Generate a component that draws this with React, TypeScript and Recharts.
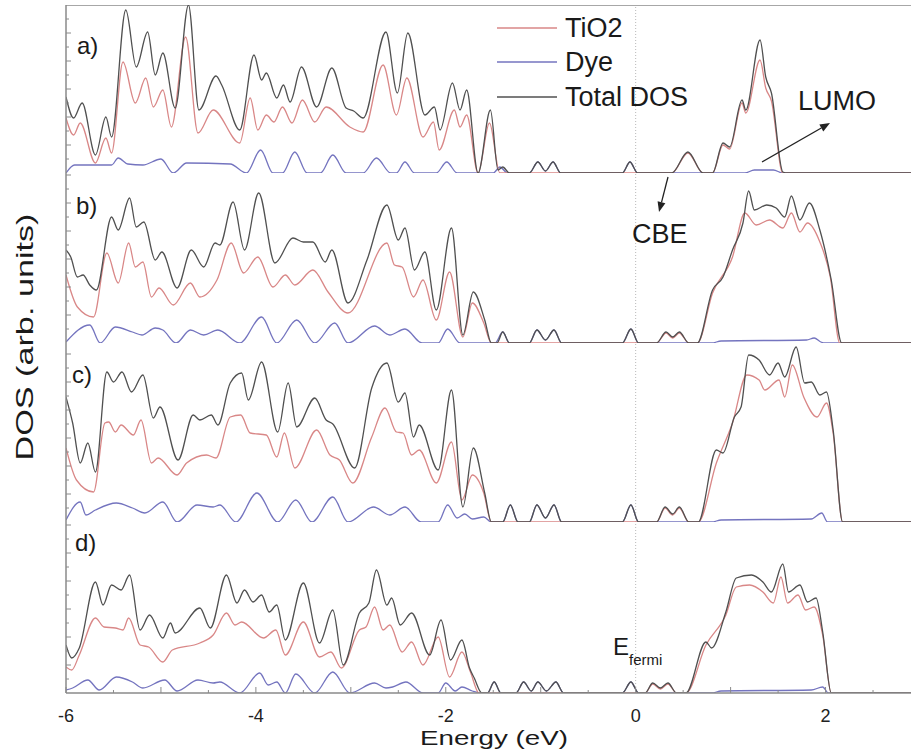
import { LineChart, Line, XAxis, YAxis, ReferenceLine } from 'recharts';

type Pt = [number, number];

// energy (eV), DOS in arbitrary units
const seriesNames = ['TiO2', 'Dye', 'Total DOS'];
const seriesColors = ['#d98787', '#7474bf', '#505050'];
const panelLabels = ['a)', 'b)', 'c)', 'd)'];
const energyTicks = [-6, -5.5, -5, -4.5, -4, -3.5, -3, -2.5, -2, -1.5, -1, -0.5, 0, 0.5, 1, 1.5, 2, 2.5];
const energyLabels = [-6, -4, -2, 0, 2];
const dosTicks = [14, 28, 42, 56, 70, 84, 98, 112, 126, 140, 154, 168];

const totalA: Pt[] = [
  [-6.0, 76], [-5.92, 55], [-5.83, 70], [-5.69, 18], [-5.58, 56], [-5.52, 36], [-5.37, 163], [-5.26, 106],
  [-5.14, 141], [-5.06, 98], [-4.98, 120], [-4.85, 65], [-4.71, 168], [-4.6, 63], [-4.42, 97], [-4.36, 88],
  [-4.17, 43], [-4.02, 118], [-3.94, 93], [-3.89, 100], [-3.78, 75], [-3.71, 88], [-3.64, 71], [-3.52, 106],
  [-3.36, 66], [-3.2, 105], [-3.05, 65], [-2.97, 62], [-2.87, 55], [-2.63, 141], [-2.51, 80], [-2.4, 140],
  [-2.22, 58], [-2.12, 66], [-2.06, 43], [-1.93, 90], [-1.85, 63], [-1.78, 83], [-1.66, 0], [-1.53, 63],
  [-1.45, 3], [-1.4, 6], [-1.33, 0], [-1.12, 0], [-1.03, 11], [-0.95, 2], [-0.87, 11], [-0.79, 0],
  [-0.14, 0], [-0.06, 11], [0.02, 0], [0.38, 0], [0.55, 21], [0.71, 0], [0.81, 0], [0.92, 30], [0.99, 26],
  [1.12, 73], [1.16, 63], [1.31, 133], [1.37, 96], [1.43, 80], [1.55, 1], [1.6, 0], [2.9, 0],
];
const tio2A: Pt[] = [
  [-6.0, 55], [-5.92, 38], [-5.85, 50], [-5.69, 10], [-5.58, 35], [-5.52, 20], [-5.4, 111], [-5.27, 70],
  [-5.16, 95], [-5.08, 66], [-4.98, 83], [-4.89, 46], [-4.74, 136], [-4.61, 40], [-4.45, 63], [-4.17, 30],
  [-4.06, 75], [-3.98, 43], [-3.89, 58], [-3.81, 51], [-3.72, 66], [-3.62, 50], [-3.51, 73], [-3.38, 51],
  [-3.26, 66], [-3.01, 46], [-2.87, 41], [-2.66, 108], [-2.52, 58], [-2.41, 95], [-2.24, 36], [-2.13, 51],
  [-2.07, 23], [-1.91, 63], [-1.85, 46], [-1.78, 58], [-1.66, 0], [-1.54, 50], [-1.43, 0], [0.38, 0],
  [0.55, 20], [0.71, 0], [0.81, 0], [0.92, 28], [0.99, 24], [1.12, 70], [1.16, 60], [1.31, 113], [1.37, 85],
  [1.43, 72], [1.55, 0], [2.9, 0],
];
const dyeA: Pt[] = [
  [-6.0, 0], [-5.91, 8], [-5.52, 8], [-5.45, 15], [-5.35, 9], [-5.19, 8], [-5.0, 14], [-4.87, 0], [-4.73, 10],
  [-4.27, 9], [-4.1, 0], [-3.95, 23], [-3.82, 0], [-3.72, 0], [-3.59, 21], [-3.46, 0], [-3.32, 0], [-3.19, 18],
  [-3.05, 0], [-2.87, 0], [-2.73, 15], [-2.58, 0], [-2.52, 0], [-2.43, 11], [-2.33, 0], [-2.1, 0], [-1.99, 11],
  [-1.88, 0], [-1.5, 0], [-1.43, 6], [-1.35, 0], [-1.12, 0], [-1.03, 11], [-0.95, 2], [-0.87, 11], [-0.79, 0],
  [-0.14, 0], [-0.06, 11], [0.02, 0], [1.15, 0], [1.25, 3], [1.45, 3], [1.55, 0], [2.9, 0],
];

const totalB: Pt[] = [
  [-6.0, 93], [-5.95, 86], [-5.88, 66], [-5.82, 68], [-5.75, 58], [-5.68, 53], [-5.52, 126], [-5.45, 113],
  [-5.33, 145], [-5.26, 116], [-5.18, 121], [-5.06, 83], [-4.99, 91], [-4.83, 55], [-4.68, 93], [-4.55, 76],
  [-4.43, 100], [-4.38, 98], [-4.24, 141], [-4.12, 93], [-3.97, 150], [-3.8, 80], [-3.61, 105], [-3.5, 101],
  [-3.4, 101], [-3.27, 81], [-3.2, 93], [-3.03, 40], [-2.83, 83], [-2.62, 138], [-2.5, 103], [-2.43, 115],
  [-2.33, 73], [-2.22, 91], [-2.1, 33], [-1.94, 115], [-1.82, 8], [-1.71, 51], [-1.59, 23], [-1.52, 0],
  [-1.46, 0], [-1.4, 11], [-1.33, 0], [-1.12, 0], [-1.04, 13], [-0.95, 3], [-0.86, 13], [-0.78, 0], [-0.14, 0],
  [-0.05, 14], [0.03, 0], [0.22, 0], [0.32, 11], [0.39, 6], [0.46, 11], [0.56, 0], [0.65, 0], [0.81, 53],
  [0.92, 66], [1.02, 93], [1.13, 120], [1.19, 152], [1.25, 133], [1.38, 138], [1.48, 135], [1.57, 126],
  [1.64, 147], [1.73, 123], [1.83, 140], [1.94, 113], [2.06, 63], [2.17, 0], [2.9, 0],
];
const tio2B: Pt[] = [
  [-6.0, 68], [-5.88, 36], [-5.71, 26], [-5.57, 90], [-5.45, 60], [-5.34, 100], [-5.27, 76], [-5.19, 81],
  [-5.1, 46], [-5.02, 55], [-4.87, 38], [-4.69, 60], [-4.59, 46], [-4.41, 63], [-4.26, 100], [-4.13, 70],
  [-3.98, 86], [-3.82, 56], [-3.69, 68], [-3.59, 58], [-3.4, 73], [-3.24, 51], [-3.03, 30], [-2.62, 100],
  [-2.54, 78], [-2.46, 76], [-2.34, 46], [-2.24, 63], [-2.1, 23], [-1.96, 71], [-1.82, 6], [-1.72, 40],
  [-1.6, 20], [-1.52, 0], [0.22, 0], [0.32, 10], [0.39, 5], [0.46, 10], [0.56, 0], [0.65, 0], [0.81, 50],
  [1.02, 86], [1.15, 130], [1.27, 118], [1.41, 123], [1.55, 115], [1.64, 130], [1.73, 111], [1.81, 120],
  [1.94, 101], [2.05, 66], [2.15, 0], [2.9, 0],
];
const dyeB: Pt[] = [
  [-6.0, 1], [-5.75, 18], [-5.64, 0], [-5.48, 16], [-5.3, 11], [-5.2, 8], [-5.06, 15], [-4.98, 13], [-4.84, 0],
  [-4.69, 13], [-4.55, 8], [-4.4, 13], [-4.17, 0], [-3.94, 26], [-3.78, 0], [-3.57, 23], [-3.38, 0],
  [-3.17, 20], [-3.03, 0], [-2.75, 17], [-2.59, 8], [-2.43, 14], [-2.25, 0], [-2.08, 0], [-1.98, 14],
  [-1.85, 0], [-1.48, 0], [-1.4, 11], [-1.33, 0], [-1.12, 0], [-1.04, 13], [-0.95, 3], [-0.86, 13], [-0.78, 0],
  [-0.14, 0], [-0.05, 14], [0.03, 0], [0.8, 0], [0.9, 2], [1.8, 3], [1.88, 5], [1.95, 1], [2.0, 0], [2.9, 0],
];

const totalC: Pt[] = [
  [-6.0, 125], [-5.93, 99], [-5.85, 59], [-5.77, 79], [-5.69, 50], [-5.57, 150], [-5.5, 140], [-5.41, 150],
  [-5.31, 130], [-5.19, 147], [-5.08, 104], [-5.01, 115], [-4.82, 62], [-4.66, 107], [-4.59, 102],
  [-4.47, 107], [-4.4, 97], [-4.27, 139], [-4.15, 149], [-4.08, 122], [-3.94, 160], [-3.77, 90], [-3.66, 139],
  [-3.57, 95], [-3.38, 124], [-3.26, 102], [-3.19, 98], [-2.96, 54], [-2.78, 134], [-2.62, 159], [-2.5, 120],
  [-2.43, 129], [-2.34, 85], [-2.28, 97], [-2.08, 52], [-1.94, 132], [-1.82, 15], [-1.71, 74], [-1.59, 29],
  [-1.52, 0], [-1.4, 0], [-1.32, 17], [-1.24, 0], [-1.12, 0], [-1.04, 17], [-0.95, 4], [-0.86, 17],
  [-0.78, 0], [-0.14, 0], [-0.05, 17], [0.03, 0], [0.22, 0], [0.31, 15], [0.39, 8], [0.46, 15], [0.56, 0],
  [0.66, 0], [0.85, 72], [0.92, 69], [1.04, 105], [1.11, 115], [1.19, 167], [1.3, 162], [1.41, 147],
  [1.5, 159], [1.57, 145], [1.69, 175], [1.78, 139], [1.85, 140], [1.94, 127], [2.01, 130], [2.08, 92],
  [2.18, 0], [2.9, 0],
];
const tio2C: Pt[] = [
  [-6.0, 74], [-5.89, 42], [-5.71, 30], [-5.59, 99], [-5.55, 100], [-5.48, 90], [-5.42, 97], [-5.29, 87],
  [-5.21, 102], [-5.1, 59], [-5.03, 64], [-4.83, 47], [-4.73, 59], [-4.52, 67], [-4.42, 64], [-4.27, 105],
  [-4.16, 107], [-4.06, 89], [-3.89, 87], [-3.78, 65], [-3.7, 89], [-3.59, 54], [-3.36, 92], [-3.22, 67],
  [-3.12, 62], [-2.98, 39], [-2.78, 85], [-2.64, 114], [-2.52, 90], [-2.45, 89], [-2.36, 67], [-2.28, 72],
  [-2.1, 39], [-1.94, 80], [-1.83, 22], [-1.72, 47], [-1.6, 29], [-1.52, 0], [0.22, 0], [0.31, 14],
  [0.39, 7], [0.46, 14], [0.56, 0], [0.66, 0], [0.85, 59], [1.02, 99], [1.17, 147], [1.3, 142], [1.36, 132],
  [1.51, 142], [1.57, 125], [1.65, 157], [1.77, 125], [1.91, 105], [2.01, 119], [2.08, 89], [2.18, 0], [2.9, 0],
];
const dyeC: Pt[] = [
  [-6.0, 2], [-5.85, 20], [-5.79, 7], [-5.69, 12], [-5.47, 19], [-5.3, 14], [-5.17, 9], [-4.98, 20],
  [-4.83, 0], [-4.62, 17], [-4.45, 15], [-4.38, 17], [-4.21, 0], [-3.99, 29], [-3.77, 0], [-3.58, 22],
  [-3.41, 0], [-3.19, 25], [-3.03, 0], [-2.76, 15], [-2.59, 7], [-2.43, 15], [-2.26, 0], [-2.08, 0],
  [-1.98, 17], [-1.88, 4], [-1.8, 8], [-1.72, 3], [-1.6, 5], [-1.52, 0], [-1.4, 0], [-1.32, 17], [-1.24, 0],
  [-1.12, 0], [-1.04, 17], [-0.95, 4], [-0.86, 17], [-0.78, 0], [-0.14, 0], [-0.05, 17], [0.03, 0], [0.8, 0],
  [0.9, 2], [1.85, 3], [1.96, 9], [2.02, 0], [2.9, 0],
];

const totalD: Pt[] = [
  [-6.0, 48], [-5.94, 35], [-5.86, 45], [-5.69, 111], [-5.61, 88], [-5.52, 108], [-5.42, 103], [-5.33, 118],
  [-5.22, 63], [-5.12, 78], [-4.98, 55], [-4.9, 70], [-4.85, 60], [-4.59, 85], [-4.48, 65], [-4.31, 118],
  [-4.2, 90], [-4.12, 103], [-4.03, 91], [-3.94, 98], [-3.86, 81], [-3.78, 88], [-3.69, 53], [-3.5, 110],
  [-3.33, 50], [-3.19, 83], [-3.08, 28], [-2.91, 80], [-2.81, 90], [-2.73, 123], [-2.62, 88], [-2.57, 95],
  [-2.48, 68], [-2.36, 80], [-2.17, 38], [-2.05, 73], [-1.95, 33], [-1.83, 53], [-1.75, 25], [-1.7, 15],
  [-1.62, 0], [-1.56, 0], [-1.49, 11], [-1.42, 0], [-1.26, 0], [-1.18, 11], [-1.1, 2], [-1.03, 11],
  [-0.94, 2], [-0.84, 11], [-0.76, 0], [-0.14, 0], [-0.05, 11], [0.03, 0], [0.1, 0], [0.18, 10], [0.26, 5],
  [0.34, 10], [0.43, 0], [0.53, 0], [0.74, 51], [0.8, 45], [0.95, 81], [1.06, 115], [1.22, 118], [1.34, 111],
  [1.43, 101], [1.55, 129], [1.61, 101], [1.73, 108], [1.81, 91], [1.9, 95], [1.97, 61], [2.06, 0], [2.9, 0],
];
const tio2D: Pt[] = [
  [-6.0, 26], [-5.94, 23], [-5.86, 38], [-5.69, 75], [-5.6, 66], [-5.48, 65], [-5.4, 63], [-5.34, 75],
  [-5.22, 48], [-5.13, 46], [-4.98, 31], [-4.88, 43], [-4.59, 50], [-4.45, 58], [-4.31, 80], [-4.22, 68],
  [-4.15, 71], [-3.92, 55], [-3.79, 63], [-3.69, 38], [-3.5, 71], [-3.33, 36], [-3.21, 41], [-3.1, 25],
  [-2.91, 63], [-2.84, 66], [-2.75, 86], [-2.66, 63], [-2.59, 68], [-2.46, 41], [-2.36, 51], [-2.24, 28],
  [-2.08, 56], [-1.96, 16], [-1.83, 41], [-1.74, 21], [-1.65, 0], [0.1, 0], [0.18, 9], [0.26, 4], [0.34, 9],
  [0.43, 0], [0.53, 0], [0.74, 48], [0.95, 78], [1.06, 106], [1.2, 108], [1.34, 101], [1.45, 90], [1.53, 116],
  [1.6, 90], [1.71, 98], [1.79, 83], [1.88, 86], [1.97, 58], [2.06, 0], [2.9, 0],
];
const dyeD: Pt[] = [
  [-6.0, 3], [-5.93, 5], [-5.77, 13], [-5.65, 3], [-5.47, 16], [-5.3, 11], [-5.19, 5], [-4.96, 13], [-4.83, 2],
  [-4.61, 13], [-4.45, 10], [-4.38, 11], [-4.17, 0], [-3.96, 20], [-3.87, 8], [-3.78, 11], [-3.69, 0],
  [-3.58, 19], [-3.38, 0], [-3.19, 21], [-3.01, 0], [-2.75, 10], [-2.63, 5], [-2.56, 6], [-2.42, 11],
  [-2.24, 0], [-2.08, 0], [-2.0, 10], [-1.9, 2], [-1.83, 6], [-1.72, 2], [-1.62, 0], [-1.56, 0], [-1.49, 11],
  [-1.42, 0], [-1.26, 0], [-1.18, 11], [-1.1, 2], [-1.03, 11], [-0.94, 2], [-0.84, 11], [-0.76, 0],
  [-0.14, 0], [-0.05, 11], [0.03, 0], [0.8, 0], [0.9, 2], [1.85, 3], [1.97, 6], [2.03, 0], [2.9, 0],
];

const panels = [
  { top: 5, h: 168, tio2: tio2A, dye: dyeA, total: totalA },
  { top: 173, h: 170, tio2: tio2B, dye: dyeB, total: totalB },
  { top: 343, h: 179, tio2: tio2C, dye: dyeC, total: totalC },
  { top: 522, h: 171, tio2: tio2D, dye: dyeD, total: totalD },
];

const FONT = '"Liberation Sans", Arial, sans-serif';
const AXIS = '#8a8a8a';

const rows = (pts: Pt[]) => pts.map(([e, v]) => ({ e, v }));

const makeXTick = (withLabel: boolean) => (props: any) => {
  const { x, y, payload } = props;
  const val = payload.value;
  const major = Number.isInteger(val);
  return (
    <g>
      <line x1={x} x2={x} y1={y} y2={y - (major ? 6 : 3)} stroke={AXIS} strokeWidth={1} />
      {withLabel && energyLabels.includes(val) && (
        <text x={x} y={y + 29} textAnchor="middle" fontSize={18} fill="#222" fontFamily={FONT}>
          {val}
        </text>
      )}
    </g>
  );
};

const YTick = (props: any) => {
  const { x, y, payload } = props;
  const long = payload.value % 28 === 0;
  return <line x1={x} x2={x + (long ? 5 : 3)} y1={y} y2={y} stroke={AXIS} strokeWidth={1} />;
};

function Panel({ idx }: { idx: number }) {
  const p = panels[idx];
  const last = idx === panels.length - 1;
  const axisH = last ? 60 : 0;
  const series = [
    { key: 'dye', pts: p.dye, color: seriesColors[1] },
    { key: 'tio2', pts: p.tio2, color: seriesColors[0] },
    { key: 'total', pts: p.total, color: seriesColors[2] },
  ];
  return (
    <div style={{ position: 'absolute', left: 0, top: p.top }}>
      <LineChart width={911} height={p.h + axisH} margin={{ top: 0, right: 0, bottom: 0, left: 6 }}>
        <XAxis
          type="number"
          dataKey="e"
          domain={[-6, 2.9]}
          allowDataOverflow
          ticks={energyTicks}
          interval={0}
          height={axisH}
          tickSize={0}
          tickMargin={0}
          tickLine={false}
          tick={makeXTick(last)}
          axisLine={{ stroke: AXIS, strokeWidth: 1.5 }}
        />
        <YAxis
          type="number"
          domain={[0, p.h]}
          allowDataOverflow
          ticks={dosTicks.filter((t) => t < p.h)}
          interval={0}
          width={60}
          tickSize={0}
          tickMargin={0}
          tickLine={false}
          tick={YTick}
          axisLine={{ stroke: AXIS, strokeWidth: 1.5 }}
        />
        <ReferenceLine x={0} stroke="#b8b8b8" strokeDasharray="1 2" strokeWidth={1} />
        {idx === 0 && <ReferenceLine y={p.h} stroke={AXIS} strokeWidth={1.5} />}
        {series.map((s) => (
          <Line
            key={s.key}
            data={rows(s.pts)}
            dataKey="v"
            type="monotone"
            stroke={s.color}
            strokeWidth={1.3}
            dot={false}
            activeDot={false}
            isAnimationActive={false}
          />
        ))}
      </LineChart>
    </div>
  );
}

function Arrow({ x1, y1, x2, y2 }: { x1: number; y1: number; x2: number; y2: number }) {
  const dx = x2 - x1;
  const dy = y2 - y1;
  const len = Math.hypot(dx, dy);
  const ux = dx / len;
  const uy = dy / len;
  const bx = x2 - ux * 10;
  const by = y2 - uy * 10;
  const head = `${x2},${y2} ${bx - uy * 4},${by + ux * 4} ${bx + uy * 4},${by - ux * 4}`;
  return (
    <g>
      <line x1={x1} y1={y1} x2={bx} y2={by} stroke="#222" strokeWidth={1.3} />
      <polygon points={head} fill="#222" />
    </g>
  );
}

const labelPos = [
  [77, 54],
  [76, 214],
  [72, 383],
  [75, 551],
];
const legendY = [28, 62, 97];

export default function App() {
  return (
    <div style={{ position: 'absolute', left: 0, top: 0, width: 911, height: 753, background: '#fff', fontFamily: FONT }}>
      {panels.map((_, i) => (
        <Panel key={i} idx={i} />
      ))}
      <svg width={911} height={753} style={{ position: 'absolute', left: 0, top: 0, pointerEvents: 'none' }}>
        <g fontFamily={FONT} fill="#1a1a1a">
          {panelLabels.map((t, i) => (
            <text key={t} x={labelPos[i][0]} y={labelPos[i][1]} fontSize={24}>
              {t}
            </text>
          ))}
          {seriesNames.map((name, i) => (
            <g key={name}>
              <line x1={497} x2={557} y1={legendY[i]} y2={legendY[i]} stroke={seriesColors[i]} strokeWidth={1.3} />
              <text x={565} y={legendY[i] + 9} fontSize={27}>
                {name}
              </text>
            </g>
          ))}
          <text x={798} y={110} fontSize={27}>LUMO</text>
          <Arrow x1={762} y1={162} x2={830} y2={123} />
          <text x={632} y={243} fontSize={27}>CBE</text>
          <Arrow x1={668} y1={177} x2={659} y2={212} />
          <text x={613} y={655} fontSize={24}>
            E<tspan fontSize={15} dy={10}>fermi</tspan>
          </text>
          <text x={494} y={745} fontSize={21} textAnchor="middle" textLength={148} lengthAdjust="spacingAndGlyphs">
            Energy (eV)
          </text>
          <text
            transform="translate(33,337) rotate(-90)"
            x={0}
            y={0}
            fontSize={24}
            textAnchor="middle"
            textLength={247}
            lengthAdjust="spacingAndGlyphs"
          >
            DOS (arb. units)
          </text>
        </g>
      </svg>
    </div>
  );
}
